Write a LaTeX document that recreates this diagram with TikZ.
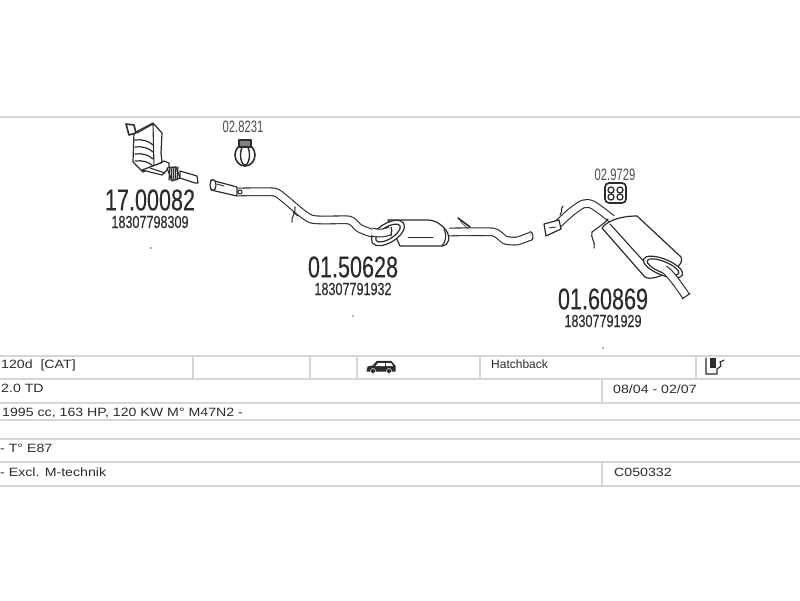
\documentclass[tikz,border=0pt]{standalone}
\usepackage{fontspec}
\setmainfont{Liberation Sans}
\newfontfamily\tallfont[FakeStretch=0.72,FakeBold=0.25]{Liberation Sans}
\newfontfamily\clampfont[FakeStretch=0.68]{Liberation Sans}
\newfontfamily\widefont[FakeStretch=1.18]{Liberation Sans}
\usetikzlibrary{positioning}
\definecolor{ink}{HTML}{2C2C2C}
\definecolor{rule}{HTML}{D6D6D6}
\begin{document}
\begin{tikzpicture}[x=1pt,y=-1pt,node distance=22pt,
    part no/.style={text=ink,inner sep=0pt,font=\tallfont\fontsize{30}{30}\selectfont},
    ref no/.style={text=ink,inner sep=0pt,font=\tallfont\fontsize{17.5}{18}\selectfont},
    clamp no/.style={text=ink!85,inner sep=0pt,font=\clampfont\fontsize{16.5}{17}\selectfont},
    cell/.style={text=ink,inner sep=0pt,anchor=west,font=\widefont\fontsize{12}{12}\selectfont},
    table line/.style={rule,line width=1.8pt},
    pipe/.style={draw=ink,line width=1.1pt,double=white,double distance=6.6pt,line join=round},
    shell/.style={draw=ink,line width=1.2pt,fill=white,line join=round},
    wire/.style={draw=ink,line width=1.1pt,line cap=round}]

    \useasboundingbox (0,0) rectangle (800,600);
    \fill[white] (0,0) rectangle (800,600);

    % table
    \draw[table line] (0,117) -- (800,117);
    \foreach \y in {356,379,403,420,439,462,486}
        \draw[table line] (0,\y) -- (800,\y);
    \foreach \x in {193,310,357,480,696}
        \draw[table line] (\x,356) -- (\x,379);
    \draw[table line] (602,379) -- (602,403);
    \draw[table line] (602,462) -- (602,486);

    % catalytic converter
    \draw[shell] (134,133) -- (153,123) -- (162,133) -- (161,153) -- (162,162) -- (143,172) -- (133,162) -- cycle;
    \draw[shell,line width=1.6pt] (126,124) -- (134,125) -- (136,133) -- (129,135) -- cycle;
    \foreach \y in {140,147,154,161}
        \draw[wire,line width=1.2pt] (135,\y) .. controls (142,\y-1) and (149,\y+1) .. (153,\y+5);
    \draw[wire] (137,133) -- (153,124) -- (154,168);
    \draw[shell] (142,170) -- (161,163) -- (164,161) -- (169,163) -- (169,168) -- (162,175) -- (150,172) -- cycle;
    \draw[wire] (150,168) -- (165,173);
    \draw[shell] (167,168) -- (176,167) -- (180,178) -- (172,181) -- cycle;
    \foreach \x in {170,172,174,176,178}
        \draw[wire,line width=1.2pt] (\x,167) -- (\x-1,180);
    \draw[shell] (180,171) -- (197,176) -- (198,183) -- (195,183) -- (180,178) -- cycle;

    % clamp
    \draw[wire,line width=1.6pt] (245,155) ellipse (10 and 11);
    \draw[wire,line width=1.4pt] (245,155) ellipse (4.5 and 10);
    \draw[shell,fill=ink!60] (239,140) rectangle (251,147);

    % middle pipe
    \draw[pipe] plot[smooth,tension=0.35] coordinates {(238,192) (274,192) (285,199) (311,219) (349,220) (359,228) (372,233) (388,232)};
    \draw[shell] (211,180) -- (237,187) -- (237,196) -- (211,190) -- cycle;
    \draw[shell] (213,185) ellipse (3 and 5.5);
    \draw[wire,line width=0.9pt] (217,184) -- (224,186);
    \fill[white,draw=ink,line width=1pt] (240,192) circle (2);
    \draw[wire] (295,207) .. controls (296,214) and (291,216) .. (292,222);
    \draw[wire] (293,212) -- (298,216);

    % muffler
    \draw[shell] (388,220) -- (427,220) .. controls (436,220) and (442,225) .. (446,230) .. controls (451,238) and (449,245) .. (442,246) -- (400,246) -- cycle;
    \draw[wire] (444,229) .. controls (447,235) and (446,241) .. (442,246);
    \draw[wire,line width=0.9pt] (408,237) -- (433,237);
    \draw[shell,rotate around={32:(388,233)}] (388,233) ellipse (18.5 and 9.5);
    \draw[shell,rotate around={32:(388,233)}] (388,233) ellipse (14 and 6);
    \draw[pipe] (372,232) .. controls (380,234) and (384,233) .. (390,231);
    \draw[wire] (391,227) .. controls (392,229) and (392,233) .. (391,236);

    % tail pipe
    \draw[pipe] plot[smooth,tension=0.35] coordinates {(449,232) (493,232) (505,240) (517,241) (531,236)};
    \draw[wire] (530,231.5) .. controls (533,232) and (534,238) .. (532,240);
    \draw[wire,line width=1.6pt] (458,218) -- (470,227);
    \draw[wire,line width=0.7pt] (460,221) -- (468,229);

    % clamp rubber
    \draw[shell,line width=1.7pt,rounded corners=4pt] (605,183) rectangle (626,203);
    \draw[wire,line width=1.3pt] (611,190) circle (3);
    \draw[wire,line width=1.3pt] (620,190) circle (3);
    \draw[wire,line width=1.3pt] (611,197) circle (3);
    \draw[wire,line width=1.3pt] (620,197) circle (3);

    % rear pipe
    \draw[pipe] plot[smooth,tension=0.45] coordinates {(556,226) (570,213) (583,204) (593,205) (612,219)};
    \draw[shell] (544,224) -- (559,220) -- (561,229) -- (546,236) -- cycle;
    \draw[wire,line width=0.9pt] (549,228) -- (556,227);
    \draw[wire] (563,206) .. controls (560,209) and (563,211) .. (560,215);

    % silencer
    \draw[shell] (602,228) .. controls (607,221) and (620,216) .. (637,216) -- (681,257) .. controls (684,263) and (676,271) .. (660,276) .. controls (652,279) and (646,279) .. (644,276) -- cycle;
    \draw[wire] (610,224) -- (648,266);
    \draw[shell,rotate around={-22:(663,267)}] (663,267) ellipse (21 and 8);
    \draw[shell,rotate around={-22:(663,267)}] (663,267) ellipse (17 and 5.5);

    % tail of the silencer
    \draw[pipe] (664,269) .. controls (670,273) and (677,283) .. (686,296);
    \draw[wire] (682,299) -- (690,293.5);
    \draw[wire] (592,232) .. controls (597,228) and (604,224) .. (608,219);
    \draw[wire] (592,232) .. controls (590,238) and (596,242) .. (594,248);

    % part numbers
    \node[part no] (part1) at (150,200) {17.00082};
    \node[ref no] (ref1) [below of = part1]{18307798309};
    \node[part no] (part2) at (353,267) {01.50628};
    \node[ref no] (ref2) [below of = part2]{18307791932};
    \node[part no] (part3) at (603,299) {01.60869};
    \node[ref no] (ref3) [below of = part3]{18307791929};
    \node[clamp no] (clamp1) at (243,127) {02.8231};
    \node[clamp no] (clamp2) at (615,175) {02.9729};

    % dots
    \fill[ink!70] (151,248) circle (0.8);
    \fill[ink!70] (353,316) circle (0.8);
    \fill[ink!70] (603,348) circle (0.8);

    % table text
    \node[cell] (model) at (1,365) {120d\ \ [CAT]};
    \node[cell,font=\fontsize{12}{12}\selectfont] (body) at (491,364) {Hatchback};
    \node[cell] (engine) at (1,388) {2.0 TD};
    \node[cell] (years) at (613,389) {08/04 - 02/07};
    \node[cell] (power) at (2,413) {1995 cc, 163 HP, 120 KW M° M47N2 -};
    \node[cell] (type) at (0,448) {- T° E87};
    \node[cell] (excl) at (0,472) {- Excl. M-technik};
    \node[cell] (code) at (614,472) {C050332};

    % car icon
    \draw[wire,fill=ink,line join=round] (367,371) -- (368,367) -- (373,366) -- (377,361.5) -- (391,361.5) -- (395,366) -- (395,371) -- cycle;
    \fill[white] (378,363) -- (385,363) -- (385,366) -- (375.5,366) -- cycle;
    \fill[white] (386,363) -- (391,363) -- (393,366) -- (386,366) -- cycle;
    \fill[ink,draw=white,line width=0.5pt] (373,371) circle (2.5);
    \fill[ink,draw=white,line width=0.5pt] (389,371) circle (2.5);

    % door icon
    \draw[wire,line width=1.1pt] (706,358) -- (706,374) -- (717,374) -- (717,369) -- (721,366) -- (720,362) -- (724,360);
    \fill[ink] (710,358) rectangle (716,368);
\end{tikzpicture}
\end{document}
